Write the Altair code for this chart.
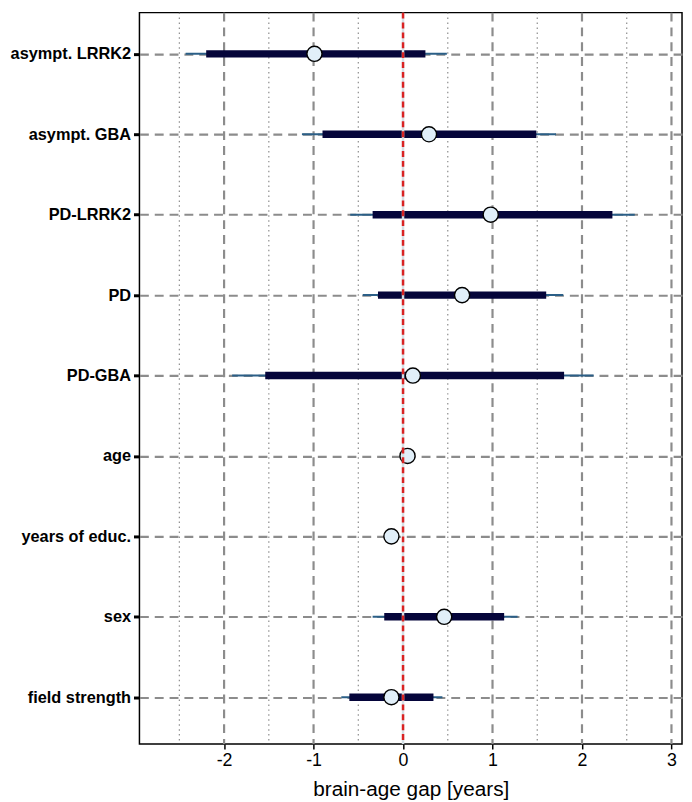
import altair as alt
import pandas as pd

labels = ["asympt. LRRK2", "asympt. GBA", "PD-LRRK2", "PD", "PD-GBA",
          "age", "years of educ.", "sex", "field strength"]
estimate = [-0.99, 0.29, 0.98, 0.66, 0.11, 0.05, -0.13, 0.46, -0.13]
inner_lo = [-2.20, -0.90, -0.34, -0.28, -1.54, 0.03, -0.15, -0.21, -0.60]
inner_hi = [0.25, 1.49, 2.34, 1.60, 1.80, 0.07, -0.11, 1.13, 0.34]
outer_lo = [-2.43, -1.13, -0.59, -0.45, -1.91, 0.02, -0.16, -0.34, -0.69]
outer_hi = [0.49, 1.71, 2.59, 1.79, 2.13, 0.08, -0.10, 1.28, 0.44]

major_ticks = [-2, -1, 0, 1, 2, 3]
major_grid = [-2, -1, 1, 2, 3]
minor_grid = [-2.5, -1.5, -0.5, 0.5, 1.5, 2.5]
ref_line = [0]

df = pd.DataFrame({
    "label": labels, "est": estimate,
    "ilo": inner_lo, "ihi": inner_hi,
    "olo": outer_lo, "ohi": outer_hi,
})

FONT = "Liberation Sans"
xscale = alt.Scale(domain=[-2.946, 3.118], nice=False, zero=False)

yenc = alt.Y(
    "label:N", sort=labels,
    scale=alt.Scale(type="point", padding=0.547, align=0.4685),
    axis=alt.Axis(
        title=None, labelFont=FONT, labelFontSize=16.5, labelFontWeight="bold",
        labelColor="black", labelPadding=3, tickColor="black", tickSize=6,
        tickWidth=3, domain=False, grid=True, gridDash=[9, 6],
        gridColor="#8c8c8c", gridWidth=2.2,
    ),
)

xaxis = alt.Axis(
    values=major_ticks, title="brain-age gap [years]", grid=False,
    labelExpr="datum.value",
    labelFont=FONT, labelFontSize=18, labelColor="black", labelPadding=3,
    tickColor="black", tickSize=5, tickWidth=1.5, domain=False,
    titleFont=FONT, titleFontSize=21, titleFontWeight="normal",
    titleColor="black", titlePadding=9,
)

base = alt.Chart(df)

minor = alt.Chart(pd.DataFrame({"v": minor_grid})).mark_rule(
    color="#8c8c8c", strokeWidth=1.2, strokeDash=[1.5, 3.5]
).encode(x=alt.X("v:Q", scale=xscale, axis=xaxis))

major = alt.Chart(pd.DataFrame({"v": major_grid})).mark_rule(
    color="#8c8c8c", strokeWidth=2.2, strokeDash=[9, 6]
).encode(x=alt.X("v:Q", scale=xscale))

thin = base.mark_rule(color="#2b5f87", strokeWidth=2).encode(
    x=alt.X("olo:Q", scale=xscale), x2="ohi:Q", y=yenc
)
thick = base.mark_rule(color="#05053a", strokeWidth=7.5).encode(
    x=alt.X("ilo:Q", scale=xscale), x2="ihi:Q", y=yenc
)
points = base.mark_point(
    shape="circle", filled=True, fill="#e1eff9", stroke="black",
    strokeWidth=1.4, size=235, opacity=1
).encode(x=alt.X("est:Q", scale=xscale), y=yenc)

ref_under = alt.Chart(pd.DataFrame({"v": ref_line})).mark_rule(
    color="#d5e0e6", strokeWidth=2.5
).encode(x=alt.X("v:Q", scale=xscale))
ref = alt.Chart(pd.DataFrame({"v": ref_line})).mark_rule(
    color="#d92323", strokeWidth=2.5, strokeDash=[6, 4]
).encode(x=alt.X("v:Q", scale=xscale))

chart = alt.layer(minor, major, thin, thick, points, ref_under, ref).properties(
    width=549, height=740,
    autosize=alt.AutoSizeParams(type="none"),
    padding={"left": 133, "top": 0, "right": 2, "bottom": 52},
).configure(
    background="white",
    view=alt.ViewConfig(stroke="black", strokeWidth=1.5),
)

chart.save("out.html", embed_options={"renderer": "svg", "actions": False})
